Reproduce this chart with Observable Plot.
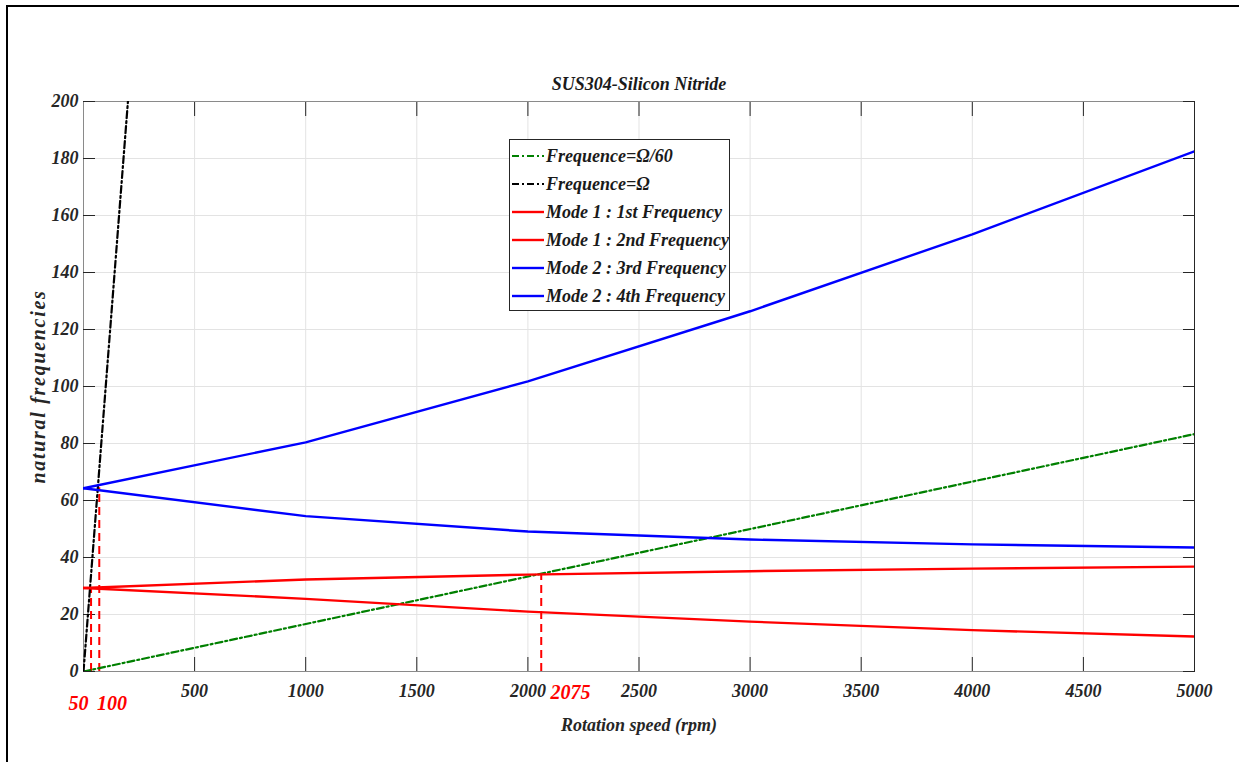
<!DOCTYPE html>
<html><head><meta charset="utf-8">
<script src="https://cdn.jsdelivr.net/npm/d3@7"></script>
<script src="https://cdn.jsdelivr.net/npm/@observablehq/plot@0.6"></script>
<style>
body{margin:0;background:#fff;overflow:hidden;width:1239px;height:762px;position:relative;font-family:"Liberation Serif","Times New Roman",serif;}
#border{position:absolute;left:6px;top:5px;width:1300px;height:900px;border-top:2px solid #000;border-left:2px solid #000;}
#chart{position:absolute;left:0;top:0;}
#legend{position:absolute;left:509px;top:139px;width:221px;height:172px;border:1px solid #262626;background:#fff;box-sizing:border-box;font-weight:bold;font-style:italic;font-size:18px;color:#1a1a1a;}
.row{position:absolute;left:1px;height:28px;display:flex;align-items:center;white-space:nowrap;}
.row svg{margin-right:1px;}
</style></head><body>
<div id="border"></div>
<div id="chart"></div>
<div id="legend"></div>
<script>
// ---- data ----
const speeds = [0, 1000, 2000, 3000, 4000, 5000];
const mode1First  = [29.3, 25.5, 21.0, 17.5, 14.5, 12.3];
const mode1Second = [29.3, 32.3, 34.0, 35.2, 36.1, 36.8];
const mode2Third  = [64.3, 54.5, 49.1, 46.3, 44.6, 43.5];
const mode2Fourth = [64.3, 80.4, 101.8, 126.4, 153.4, 182.5];
const omega60X = [0, 5000];
const omega60Y = [0, 83.3];
const omegaX = [0, 200];
const omegaY = [0, 200];
const xTicks = [500, 1000, 1500, 2000, 2500, 3000, 3500, 4000, 4500, 5000];
const yTicks = [0, 20, 40, 60, 80, 100, 120, 140, 160, 180, 200];
const gridXTicks = [0, 500, 1000, 1500, 2000, 2500, 3000, 3500, 4000, 4500, 5000];
const critX = [34, 71, 2060];
const critY = [29.5, 64.5, 34.3];
const critLabels = ["50", "100", "2075"];
const critLabelX = [-22, 128, 2192];
const critLabelDy = [38, 38, 27];

const seriesNames = ["Frequence=Ω/60", "Frequence=Ω", "Mode 1 : 1st Frequency", "Mode 1 : 2nd Frequency", "Mode 2 : 3rd Frequency", "Mode 2 : 4th Frequency"];
const seriesColors = ["#008000", "#000000", "#ff0000", "#ff0000", "#0000ff", "#0000ff"];
const seriesDash = ["7,3,2,3", "7,3,2,3", null, null, null, null];

// ---- build tables ----
const rows = [];
omega60X.forEach((x, i) => rows.push({s: 0, x, y: omega60Y[i]}));
omegaX.forEach((x, i) => rows.push({s: 1, x, y: omegaY[i]}));
[mode1First, mode1Second, mode2Third, mode2Fourth].forEach((arr, k) =>
  speeds.forEach((x, i) => rows.push({s: k + 2, x, y: arr[i]})));
const crit = critX.map((x, i) => ({x, y: critY[i]}));
const critText = critLabels.map((t, i) => ({t, x: critLabelX[i], dy: critLabelDy[i]}));

const font = {fontFamily: "'Liberation Serif','Times New Roman',serif", fontWeight: "bold", fontStyle: "italic"};
const lineMarks = [0, 1, 2, 3, 4, 5].map(k => Plot.line(rows.filter(d => d.s === k), {
  x: "x", y: "y", stroke: seriesColors[k], strokeWidth: k < 2 ? 2.2 : 2.4,
  strokeDasharray: seriesDash[k], clip: true
}));
const textMarks = critText.map(d => Plot.text([d], {x: "x", text: "t", frameAnchor: "bottom", dy: d.dy, fill: "#ff0000", fontSize: 20, ...font}));

const p = Plot.plot({
  width: 1239, height: 762,
  marginLeft: 83, marginRight: 45, marginTop: 101, marginBottom: 91,
  x: {domain: [0, 5000]},
  y: {domain: [0, 200]},
  style: {fontFamily: font.fontFamily, background: "transparent", overflow: "visible"},
  marks: [
    Plot.gridX(gridXTicks, {stroke: "#e3e3e3", strokeOpacity: 1}),
    Plot.gridY(yTicks, {stroke: "#e3e3e3", strokeOpacity: 1}),
    Plot.frame({stroke: "#8a8a8a"}),
    Plot.ruleX([5000], {stroke: "#262626"}),
    Plot.axisX(xTicks, {anchor: "bottom", tickSize: -14, tickFormat: () => "", stroke: "#262626", label: null}),
    Plot.axisX(xTicks, {anchor: "top", tickSize: -14, tickFormat: () => "", stroke: "#262626", label: null}),
    Plot.axisY(yTicks, {anchor: "left", tickSize: -12, tickFormat: () => "", stroke: "#262626", label: null}),
    Plot.axisY(yTicks, {anchor: "right", tickSize: -12, tickFormat: () => "", stroke: "#262626", label: null}),
    Plot.axisX(xTicks, {anchor: "bottom", tickSize: 0, tickPadding: 13, tickFormat: d => String(d), fontSize: 18, ...font, fill: "#262626", label: null}),
    Plot.axisY(yTicks, {anchor: "left", tickSize: 0, tickPadding: 5, tickFormat: d => String(d), fontSize: 18, ...font, fill: "#262626", label: null}),
    Plot.ruleX(crit, {x: "x", y1: 0, y2: "y", stroke: "#ff0000", strokeWidth: 2, strokeDasharray: "8,5"}),
    ...lineMarks,
    ...textMarks,
    Plot.text(["SUS304-Silicon Nitride"], {frameAnchor: "top", dy: -24, fontSize: 18, ...font, fill: "#1a1a1a"}),
    Plot.text(["Rotation speed (rpm)"], {frameAnchor: "bottom", dy: 59, fontSize: 18, ...font, fill: "#262626"}),
    Plot.text(["natural frequencies"], {frameAnchor: "left", textAnchor: "middle", dx: -45, rotate: -90, fontSize: 20, ...font, fill: "#262626"})
  ]
});
document.getElementById("chart").appendChild(p);
// letter spacing on the y label, as in the reference
p.querySelectorAll("text").forEach(t => {
  if (t.textContent === "natural frequencies") t.style.letterSpacing = "1.7px";
});

// legend
const legend = document.getElementById("legend");
seriesNames.forEach((name, k) => {
  const row = document.createElement("div");
  row.className = "row";
  row.style.top = (2 + k * 28) + "px";
  row.innerHTML = `<svg width="34" height="10"><line x1="1" y1="5" x2="33" y2="5" stroke="${seriesColors[k]}" stroke-width="${k < 2 ? 2.2 : 2.4}" ${seriesDash[k] ? `stroke-dasharray="${seriesDash[k]}"` : ""}/></svg><span>${name}</span>`;
  legend.appendChild(row);
});
</script>
</body></html>
